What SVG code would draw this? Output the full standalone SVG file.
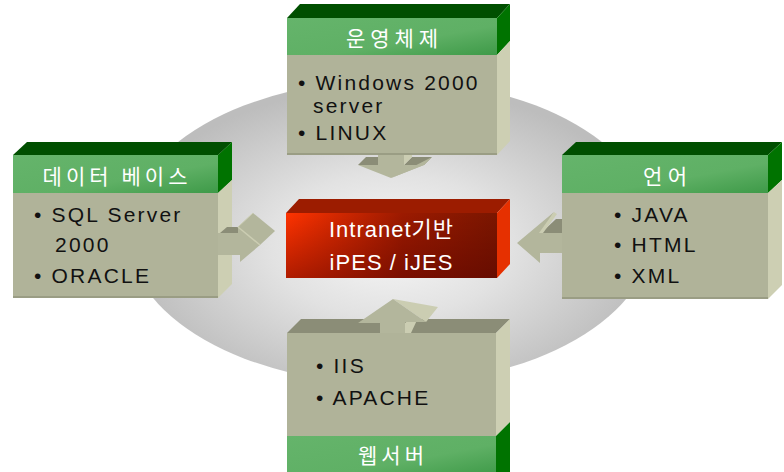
<svg xmlns="http://www.w3.org/2000/svg" width="784" height="472" viewBox="0 0 784 472">
<defs>
<radialGradient id="bg" cx="390" cy="245" r="265" gradientUnits="userSpaceOnUse" gradientTransform="translate(390 245) scale(1 0.6) translate(-390 -245)">
<stop offset="0" stop-color="#f7f7f7"/>
<stop offset="0.45" stop-color="#e2e2e2"/>
<stop offset="1" stop-color="#bdbdbd"/>
</radialGradient>
<linearGradient id="green" x1="0" y1="0" x2="1" y2="1">
<stop offset="0" stop-color="#65b46b"/>
<stop offset="0.6" stop-color="#5fb065"/>
<stop offset="1" stop-color="#3e9a48"/>
</linearGradient>
<linearGradient id="red" x1="0" y1="0" x2="1" y2="0">
<stop offset="0" stop-color="#ff3300"/>
<stop offset="0.55" stop-color="#9c1a00"/>
<stop offset="1" stop-color="#7a1600"/>
</linearGradient>
<linearGradient id="redShade" x1="0" y1="0" x2="0" y2="1">
<stop offset="0" stop-color="#500000" stop-opacity="0"/>
<stop offset="1" stop-color="#500000" stop-opacity="0.45"/>
</linearGradient>
<style>
.body{fill:#b0b399}
.bodyline{stroke:#9a9d84;stroke-width:2}
.kside{fill:#cdcfb3}
.ktop{fill:#8b8d77}
.gtop{fill:#004f00}
.gside{fill:#007300}
.head{fill:url(#green)}
.ht{font-family:"Noto Sans CJK KR","Noto Sans",sans-serif;font-size:21px;fill:#ffffff;text-anchor:middle}
.bt{font-family:"Liberation Sans",Arial,sans-serif;font-size:21px;fill:#111111;letter-spacing:2.2px}
.ct{font-family:"Liberation Sans","Noto Sans CJK KR",sans-serif;font-size:22px;fill:#ffffff;text-anchor:middle}
.af{fill:#b3b69c}
.al{fill:#cbcdb2}
.ad{fill:#8b8d77}
</style>
</defs>
<rect width="784" height="472" fill="#ffffff"/>
<ellipse cx="390" cy="232" rx="263" ry="152" fill="url(#bg)"/>

<g id="center">
<polygon points="286,213 497,213 510,199 299,199" fill="#9c1c00"/>
<polygon points="497,213 510,199 510,264 497,278" fill="#e63000"/>
<rect x="286" y="213" width="211" height="65" fill="url(#red)"/>
<rect x="286" y="213" width="211" height="65" fill="url(#redShade)"/>
<text class="ct" x="391" y="237" textLength="124" lengthAdjust="spacing">Intranet기반</text>
<text class="ct" x="391" y="270" textLength="123" lengthAdjust="spacing">iPES / iJES</text>
</g>

<g id="os">
<polygon class="gtop" points="287,18 497,18 510,4 300,4"/>
<polygon class="gside" points="497,18 510,4 510,41 497,55"/>
<polygon class="kside" points="497,55 510,41 510,141 497,155"/>
<rect class="head" x="287" y="18" width="210" height="37"/>
<rect class="body" x="287" y="55" width="210" height="100"/>
<line class="bodyline" x1="287" y1="154" x2="497" y2="154"/>
<text class="ht" x="392" y="46" textLength="92" lengthAdjust="spacing">운영체제</text>
<text class="bt" x="298" y="90">• Windows 2000</text>
<text class="bt" x="313" y="113">server</text>
<text class="bt" x="298" y="140">• LINUX</text>
</g>

<g id="database">
<polygon class="gtop" points="13,155 218,155 232,142 27,142"/>
<polygon class="gside" points="218,155 232,142 232,180 218,193"/>
<polygon class="kside" points="218,193 232,180 232,284 218,298"/>
<rect class="head" x="13" y="155" width="205" height="38"/>
<rect class="body" x="13" y="193" width="205" height="105"/>
<line class="bodyline" x1="13" y1="297" x2="218" y2="297"/>
<text class="ht" x="115" y="184" textLength="145" lengthAdjust="spacing">데이터 베이스</text>
<text class="bt" x="34" y="222">• SQL Server</text>
<text class="bt" x="55" y="252">2000</text>
<text class="bt" x="34" y="283">• ORACLE</text>
</g>

<g id="language">
<polygon class="gtop" points="562,155 768,155 782,142 576,142"/>
<polygon class="gside" points="768,155 782,142 782,180 768,193"/>
<polygon class="kside" points="768,193 782,180 782,285 768,299"/>
<rect class="head" x="562" y="155" width="206" height="38"/>
<rect class="body" x="562" y="193" width="206" height="106"/>
<line class="bodyline" x1="562" y1="298" x2="768" y2="298"/>
<text class="ht" x="665" y="184" textLength="44" lengthAdjust="spacing">언어</text>
<text class="bt" x="614" y="222">• JAVA</text>
<text class="bt" x="614" y="252">• HTML</text>
<text class="bt" x="614" y="283">• XML</text>
</g>

<g id="webserver">
<polygon class="ktop" points="287,333 496,333 510,319 301,319"/>
<polygon class="kside" points="496,333 510,319 510,422 496,436"/>
<polygon class="gside" points="496,436 510,422 510,472 496,472"/>
<rect class="body" x="287" y="333" width="209" height="103"/>
<rect class="head" x="287" y="436" width="209" height="40"/>
<text class="bt" x="316" y="373">• IIS</text>
<text class="bt" x="316" y="405">• APACHE</text>
<text class="ht" x="391" y="463" textLength="66" lengthAdjust="spacing">웹서버</text>
</g>

<g id="connectors">
<g id="arrow-top">
<polygon class="ad" points="358,165 378,165 386,157 366,157"/>
<polygon class="ad" points="404,165 424,165 432,157 412,157"/>
<polygon class="al" points="404,155 404,165 412,157 412,155"/>
<polygon class="af" points="424,165 432,157 391,178"/>
<polygon class="af" points="378,155 404,155 404,165 424,165 391,178 358,165 378,165"/>
</g>
<g id="arrow-left">
<polygon class="ad" points="220,233 227,227 246,227 239,233"/>
<polygon class="af" points="238,227 253,213 275,231 260,245"/>
<polygon class="af" points="218,233 238,233 238,227 260,245 240,262 240,255 218,255"/>
<line x1="238" y1="227" x2="260" y2="245" stroke="#cbcdb2" stroke-width="1.5"/>
<line x1="253" y1="213" x2="238" y2="227" stroke="#cbcdb2" stroke-width="1"/>
</g>
<g id="arrow-right">
<polygon class="ad" points="541,233 562,233 562,219 556,219"/>
<polygon class="af" points="562,233 541,233 554,212 517,243 540,263 540,253 562,253"/>
<polygon class="al" points="539,233 543,233 557,214 554,212"/>
</g>
<g id="arrow-bottom">
<polygon class="al" points="405,323 405,333 411,333 418,318 412,318"/>
<polygon class="al" points="393,299 438,307 426,322"/>
<polygon class="af" points="380,333 380,323 358,323 393,299 426,322 405,322 405,333"/>
</g>
</g>
</svg>
